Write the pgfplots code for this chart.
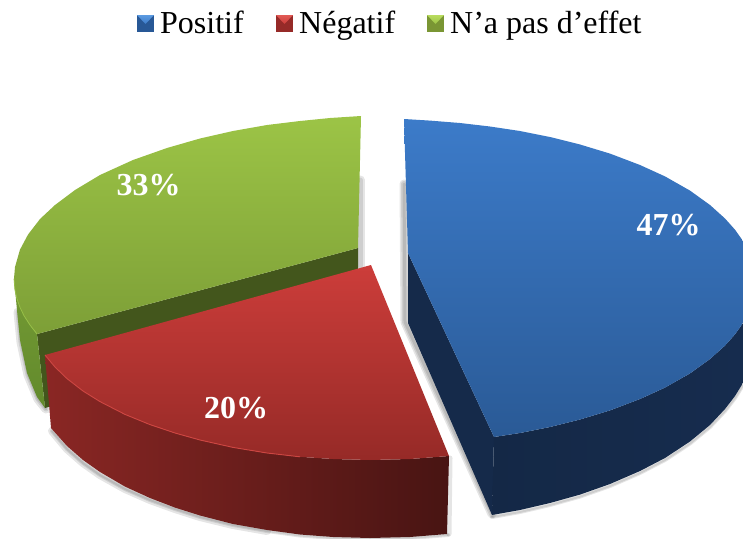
\documentclass[border=0pt]{standalone}
\usepackage{fontspec}
\setmainfont{Liberation Serif}
\usepackage{pgfplots}
\pgfplotsset{compat=1.18}
\definecolor{bT}{HTML}{3C7BC9}
\definecolor{bB}{HTML}{2A5A96}
\definecolor{rT}{HTML}{CC3D3A}
\definecolor{rB}{HTML}{962A27}
\definecolor{gT}{HTML}{9CC446}
\definecolor{gB}{HTML}{7D9F37}
\pgfplotsset{shad/.style={draw=black,line width=#1,opacity=.10,line join=round,line cap=round}}
\begin{document}
\begin{tikzpicture}
\path[use as bounding box] (0,0) rectangle (743pt,538pt);
\begin{axis}[at={(0,0)},anchor=south west,width=743pt,height=538pt,scale only axis,
 xmin=0,xmax=743,ymin=0,ymax=538,y dir=reverse,axis lines=none,clip=true]
% shadows: blue
\addplot[shad=9pt] coordinates {(404,184)(405,322)(492,514)};
\addplot[shad=6pt] coordinates {(404,184)(405,322)(492,514)};
\addplot[shad=3pt] coordinates {(404,184)(405,322)(492,514)};
\addplot[shad=4pt] coordinates {(492,517)(520,512)(550,505)(580,496.6)(610,486)(640,473)(665,460)(690,443.5)(710,427)(725,411)(735,398)(743,385)};
\addplot[shad=2pt] coordinates {(492,517)(520,512)(550,505)(580,496.6)(610,486)(640,473)(665,460)(690,443.5)(710,427)(725,411)(735,398)(743,385)};
% shadows: green, gap and left
\addplot[shad=9pt] coordinates {(360,180)(360,266)};
\addplot[shad=5pt] coordinates {(360,180)(360,266)};
\addplot[shad=9pt] coordinates {(18,312)(21,342)(28,375)(38,399)(46,409)};
\addplot[shad=5pt] coordinates {(18,312)(21,342)(28,375)(38,399)(46,409)};
\addplot[shad=2.5pt] coordinates {(18,312)(21,342)(28,375)(38,399)(46,409)};
% shadows: red
\addplot[shad=8pt] coordinates {(52,431)(67,449)(83,463)(100,475)(125,489)(150,500)(175,509)(200,517)(233,525)(267,531)};
\addplot[shad=4pt] coordinates {(52,431)(67,449)(83,463)(100,475)(125,489)(150,500)(175,509)(200,517)(233,525)(267,531)(300,535.5)(333,538)(370,539)(410,538)(448,535)};
\addplot[shad=2pt] coordinates {(52,431)(67,449)(83,463)(100,475)(125,489)(150,500)(175,509)(200,517)(233,525)(267,531)(300,535.5)(333,538)(370,539)(410,538)(448,535)};
\addplot[shad=5pt] coordinates {(450,458)(449,534)};
% green
\addplot[draw=none,fill={rgb,255:red,67;green,86;blue,28}] coordinates {(37,334)(358,248)(358,320)(45,408)} --cycle;
\addplot[draw=none,top color={rgb,255:red,116;green,154;blue,52},bottom color={rgb,255:red,98;green,138;blue,44}] coordinates {(14,278.5)(15,290)(17,299)(20,307.4)(24,315.7)(30,325)(37,334)(45,408)(37,397)(27,373)(20,340)(17,310)} --cycle;
\addplot[draw=none,top color=gT,bottom color=gB] coordinates {(361,116)(330,118)(300,121)(267,125)(233,131)(200,138.5)(167,148)(133,160)(100,175)(75,190)(55,205)(40,219)(28,234.6)(20,249.6)(15,267)(14,278.5)(15,290)(17,299)(20,307.4)(24,315.7)(30,325)(37,334)(358,248)} --cycle;
\addplot[draw={rgb,255:red,150;green,190;blue,70},line width=.8pt] coordinates {(14,278.5)(15,290)(17,299)(20,307.4)(24,315.7)(30,325)(37,334)};
% red
\addplot[draw=none,left color=rB!92!black,middle color=rB!64!black,right color=rB!48!black] coordinates {(45,355)(55,367)(67,378.6)(83,391)(100,401.6)(125,414.4)(150,424.6)(175,433)(200,440)(233,447.4)(267,453)(300,456.8)(333,459)(370,460)(410,459)(449,456)(447,534)(410,537)(370,538)(333,537)(300,534.5)(267,530)(233,524)(200,515.5)(175,507.6)(150,498)(125,486.6)(100,472)(83,460)(67,446)(51,428)} --cycle;
\addplot[draw=none,top color=rT,bottom color=rB] coordinates {(371,265)(45,355)(55,367)(67,378.6)(83,391)(100,401.6)(125,414.4)(150,424.6)(175,433)(200,440)(233,447.4)(267,453)(300,456.8)(333,459)(370,460)(410,459)(449,456)} --cycle;
\addplot[draw={rgb,255:red,205;green,70;blue,66},line width=.9pt] coordinates {(45,355)(55,367)(67,378.6)(83,391)(100,401.6)(125,414.4)(150,424.6)(175,433)(200,440)(233,447.4)(267,453)(300,456.8)};
% blue
\addplot[draw=none,fill={rgb,255:red,21;green,42;blue,74}] coordinates {(408,253)(494,437)(492,515)(408,323)} --cycle;
\addplot[draw=none,left color={rgb,255:red,20;green,40;blue,70},right color={rgb,255:red,22;green,44;blue,78}] coordinates {(494,437)(520,433)(550,427)(580,419.5)(610,410.4)(640,399)(665,387.6)(690,373.4)(710,359)(725,345.6)(735,334.3)(743,323)(743,383)(735,396)(725,409)(710,425)(690,441.5)(665,458)(640,471)(610,484)(580,494.6)(550,503)(520,510)(492,515)} --cycle;
\addplot[draw=none,top color=bT,bottom color=bB] coordinates {(404,119)(430,120.6)(460,123)(490,126.5)(520,131)(550,137)(580,144.5)(610,153.6)(640,165)(665,176.4)(690,190.6)(710,205)(725,218.5)(735,229.7)(743,241)(743,323)(735,334.3)(725,345.6)(710,359)(690,373.4)(665,387.6)(640,399)(610,410.4)(580,419.5)(550,427)(520,433)(494,437)(408,253)} --cycle;
% legend keys
\addplot[draw=none,fill={rgb,255:red,40;green,88;blue,150}] coordinates {(137,15)(154,15)(154,32)(137,32)} --cycle;
\addplot[draw=none,top color={rgb,255:red,92;green,155;blue,225},bottom color=bT] coordinates {(137,15)(154,15)(145.5,24)} --cycle;
\addplot[draw=none,fill={rgb,255:red,150;green,42;blue,40}] coordinates {(276,15)(293,15)(293,32)(276,32)} --cycle;
\addplot[draw=none,top color={rgb,255:red,225;green,90;blue,85},bottom color=rT] coordinates {(276,15)(293,15)(284.5,24)} --cycle;
\addplot[draw=none,fill={rgb,255:red,122;green,150;blue,52}] coordinates {(427,15)(444,15)(444,32)(427,32)} --cycle;
\addplot[draw=none,top color={rgb,255:red,185;green,220;blue,95},bottom color=gT] coordinates {(427,15)(444,15)(435.5,24)} --cycle;
% text
\node[anchor=base west,inner sep=0pt,font=\fontsize{32}{34}\selectfont] at (axis cs:160,33) {Positif};
\node[anchor=base west,inner sep=0pt,font=\fontsize{32}{34}\selectfont] at (axis cs:299,33) {Négatif};
\node[anchor=base west,inner sep=0pt,font=\fontsize{32}{34}\selectfont] at (axis cs:450,33) {N’a pas d’effet};
\node[text=white,font=\bfseries\fontsize{32}{34}\selectfont,inner sep=0pt] at (axis cs:148.5,185) {33\%};
\node[text=white,font=\bfseries\fontsize{32}{34}\selectfont,inner sep=0pt] at (axis cs:668.5,225) {47\%};
\node[text=white,font=\bfseries\fontsize{32}{34}\selectfont,inner sep=0pt] at (axis cs:236,408) {20\%};
\end{axis}
\end{tikzpicture}
\end{document}
